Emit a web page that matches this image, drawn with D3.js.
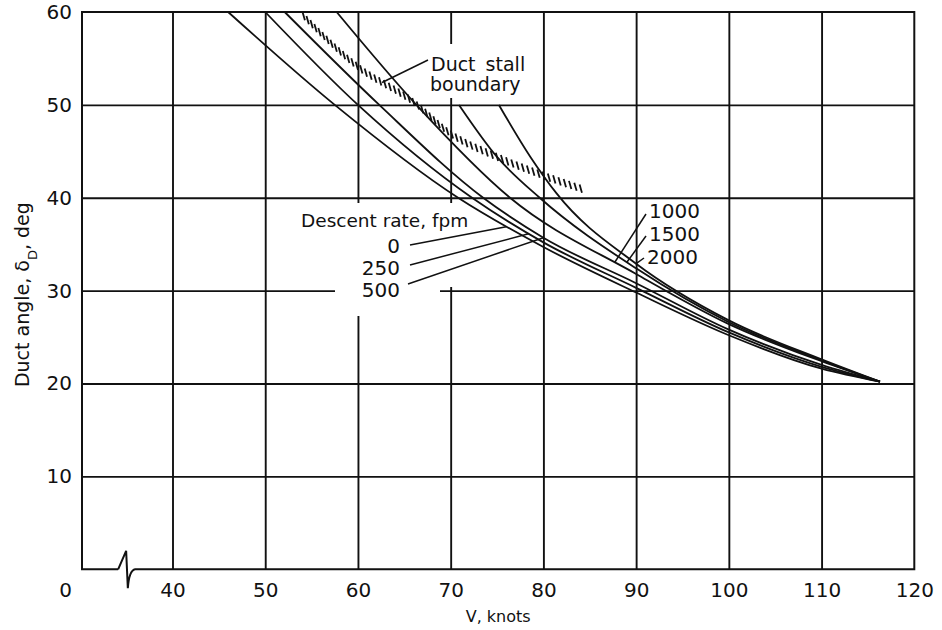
<!DOCTYPE html>
<html>
<head>
<meta charset="utf-8">
<script src="https://cdn.jsdelivr.net/npm/d3@7"></script>
<style>
  body { margin: 0; background: #fff; }
  svg { display: block; }
  text { font-family: "DejaVu Sans", sans-serif; fill: #111; }
</style>
</head>
<body>
<svg id="chart" width="942" height="630"></svg>
<script>
// Duct angle required for level / descending flight, by descent rate (fpm)
const descentRates = ["0", "250", "500", "1000", "1500", "2000"];

// speed (knots) and duct angle (deg) along each curve
const speed0    = [46.0, 57.5, 70.8, 80.0, 90.0, 100.0, 110.0, 116.3];
const angle0    = [60.0, 50.0, 40.0, 34.7, 29.8, 25.2, 21.6, 20.2];
const speed250  = [50.0, 60.0, 72.3, 80.0, 90.0, 100.0, 110.0, 116.3];
const angle250  = [60.0, 50.0, 40.0, 35.2, 30.3, 25.5, 21.8, 20.2];
const speed500  = [52.1, 62.3, 73.5, 80.0, 90.0, 100.0, 110.0, 116.3];
const angle500  = [60.0, 50.0, 40.0, 35.7, 30.8, 25.8, 22.0, 20.2];
const speed1000 = [57.7, 66.3, 76.4, 90.0, 100.0, 110.0, 116.3];
const angle1000 = [60.0, 50.0, 40.0, 31.8, 26.4, 22.4, 20.2];
const speed1500 = [70.9, 75.0, 79.6, 90.0, 100.0, 110.0, 116.3];
const angle1500 = [50.0, 44.4, 40.0, 32.4, 26.6, 22.5, 20.2];
const speed2000 = [75.2, 78.6, 81.4, 90.0, 100.0, 110.0, 116.3];
const angle2000 = [50.0, 44.4, 40.5, 32.9, 26.8, 22.6, 20.2];

// duct stall boundary (hatched)
const stallSpeed = [54.0, 60.0, 66.0, 70.0, 75.0, 80.0, 84.3];
const stallAngle = [59.7, 54.1, 50.3, 46.9, 44.4, 42.4, 40.9];

// axes
const xTicks = [40, 50, 60, 70, 80, 90, 100, 110, 120];
const yTicks = [10, 20, 30, 40, 50, 60];
const xStart = 30.24;   // left edge of the broken speed axis (labelled 0)
const xBreak = 35.0;    // where the axis break symbol sits

const speeds = [speed0, speed250, speed500, speed1000, speed1500, speed2000];
const angles = [angle0, angle250, angle500, angle1000, angle1500, angle2000];
const series = descentRates.map((r, i) =>
  ({ rate: r, pts: speeds[i].map((s, j) => ({ v: s, a: angles[i][j] })) }));
const stall = stallSpeed.map((s, j) => ({ v: s, a: stallAngle[j] }));

const svg = d3.select("#chart");
const pL = 82, pR = 914.3, pT = 12, pB = 569.3;

const x = d3.scaleLinear().domain([xStart, 120]).range([pL, pR]);
const y = d3.scaleLinear().domain([0, 60]).range([pB, pT]);

const ink = "#111";

// grid lines
const grid = svg.append("g");
grid.append("g")
  .attr("transform", `translate(0,${pB})`)
  .call(d3.axisBottom(x).tickValues(xTicks.slice(0, -1)).tickSize(-(pB - pT)).tickFormat(""))
  .call(g => g.select(".domain").remove())
  .selectAll("line").attr("stroke", ink).attr("stroke-width", 1.9);
grid.append("g")
  .attr("transform", `translate(${pL},0)`)
  .call(d3.axisLeft(y).tickValues(yTicks.slice(0, -1)).tickSize(-(pR - pL)).tickFormat(""))
  .call(g => g.select(".domain").remove())
  .selectAll("line").attr("stroke", ink).attr("stroke-width", 1.9);

// white backing behind the annotation blocks
const masks = svg.append("g").attr("fill", "#fff");
masks.append("rect").attr("x", 425).attr("y", 44).attr("width", 103).attr("height", 54);
masks.append("rect").attr("x", 335).attr("y", 203).attr("width", 127).attr("height", 84);
masks.append("rect").attr("x", 335).attr("y", 287).attr("width", 105).attr("height", 29);

// frame with the broken speed axis
const xb = x(xBreak);
svg.append("path")
  .attr("fill", "none").attr("stroke", ink).attr("stroke-width", 2)
  .attr("stroke-linejoin", "miter")
  .attr("d", `M${xb - 8},${pB} H${pL} V${pT} H${pR} V${pB} H${xb + 9}` +
             ` Q${xb + 3},${pB + 1} ${xb + 1.7},${pB + 19} L${xb},${pB - 18.5} L${xb - 8},${pB}`);

// axis labels
const xAx = svg.append("g")
  .attr("transform", `translate(0,${pB})`)
  .call(d3.axisBottom(x).tickValues(xTicks).tickSize(0).tickPadding(14));
xAx.select(".domain").remove();
xAx.selectAll("text").style("font-size", "20px").style("font-family", '"DejaVu Sans", sans-serif').attr("fill", ink);

svg.append("text")
  .attr("x", x(xStart) - 10).attr("y", pB + 28)
  .attr("text-anchor", "end").style("font-size", "20px").text("0");

const yAx = svg.append("g")
  .attr("transform", `translate(${pL},0)`)
  .call(d3.axisLeft(y).tickValues(yTicks).tickSize(0).tickPadding(10));
yAx.select(".domain").remove();
yAx.selectAll("text").style("font-size", "20px").style("font-family", '"DejaVu Sans", sans-serif').attr("fill", ink);

svg.append("text")
  .attr("x", (pL + pR) / 2).attr("y", 622)
  .attr("text-anchor", "middle").style("font-size", "16px").text("V, knots");

const yTitle = svg.append("text")
  .attr("transform", `translate(29,${(pT + pB) / 2 + 4}) rotate(-90)`)
  .attr("text-anchor", "middle").style("font-size", "19px");
yTitle.append("tspan").text("Duct angle, δ");
yTitle.append("tspan").attr("baseline-shift", "sub").style("font-size", "13px").text("D");
yTitle.append("tspan").text(", deg");

// curves
const line = d3.line().x(d => x(d.v)).y(d => y(d.a)).curve(d3.curveMonotoneX);
const curvePaths = {};
svg.append("g").selectAll("path").data(series).join("path")
  .attr("fill", "none").attr("stroke", ink).attr("stroke-width", 1.8)
  .attr("d", d => line(d.pts))
  .each(function (d) { curvePaths[d.rate] = this; });

// hatched stall boundary: short slanted ticks along the boundary line
const guide = svg.append("path").attr("fill", "none").attr("stroke", "none").attr("d", line(stall));
const gNode = guide.node();
const total = gNode.getTotalLength();
const hatch = [];
const ang = 74 * Math.PI / 180, len = 8.5;
for (let s = 2; s < total; s += 5.6) {
  const p = gNode.getPointAtLength(s);
  hatch.push({ x1: p.x - Math.cos(ang) * len / 2, y1: p.y - Math.sin(ang) * len / 2,
               x2: p.x + Math.cos(ang) * len / 2, y2: p.y + Math.sin(ang) * len / 2 });
}
svg.append("g").selectAll("line").data(hatch).join("line")
  .attr("x1", d => d.x1).attr("y1", d => d.y1).attr("x2", d => d.x2).attr("y2", d => d.y2)
  .attr("stroke", ink).attr("stroke-width", 1.8);

// point on a drawn path at a given speed
function pointAt(node, speed) {
  const px = x(speed);
  let lo = 0, hi = node.getTotalLength();
  for (let k = 0; k < 40; k++) {
    const mid = (lo + hi) / 2;
    if (node.getPointAtLength(mid).x < px) lo = mid; else hi = mid;
  }
  return node.getPointAtLength(lo);
}

// annotations
const ann = svg.append("g");
const leader = (x1, y1, p) => ann.append("line")
  .attr("x1", x1).attr("y1", y1).attr("x2", p.x).attr("y2", p.y)
  .attr("stroke", ink).attr("stroke-width", 1.5);

ann.append("text").attr("x", 431).attr("y", 71).style("font-size", "19px")
  .style("word-spacing", "4px").text("Duct stall");
ann.append("text").attr("x", 430).attr("y", 91).style("font-size", "19px").text("boundary");
leader(428, 60, pointAt(gNode, 62.6));

ann.append("text").attr("x", 301).attr("y", 227).style("font-size", "18.5px").text("Descent rate, fpm");
const lowLabels = [
  { rate: "0",   ty: 253, lx: 410, ly: 245, at: 76.0 },
  { rate: "250", ty: 275, lx: 410, ly: 265, at: 78.4 },
  { rate: "500", ty: 297, lx: 408, ly: 284, at: 80.0 }
];
lowLabels.forEach(d => {
  ann.append("text").attr("x", 400).attr("y", d.ty).attr("text-anchor", "end")
    .style("font-size", "20px").text(d.rate);
  leader(d.lx, d.ly, pointAt(curvePaths[d.rate], d.at));
});

const highLabels = [
  { rate: "1000", tx: 649, ty: 218, lx: 646, ly: 214, at: 87.7 },
  { rate: "1500", tx: 649, ty: 241, lx: 646, ly: 236, at: 89.0 },
  { rate: "2000", tx: 647, ty: 264, lx: 644, ly: 258, at: 90.0 }
];
highLabels.forEach(d => {
  ann.append("text").attr("x", d.tx).attr("y", d.ty)
    .style("font-size", "20px").text(d.rate);
  leader(d.lx, d.ly, pointAt(curvePaths[d.rate], d.at));
});
</script>
</body>
</html>
